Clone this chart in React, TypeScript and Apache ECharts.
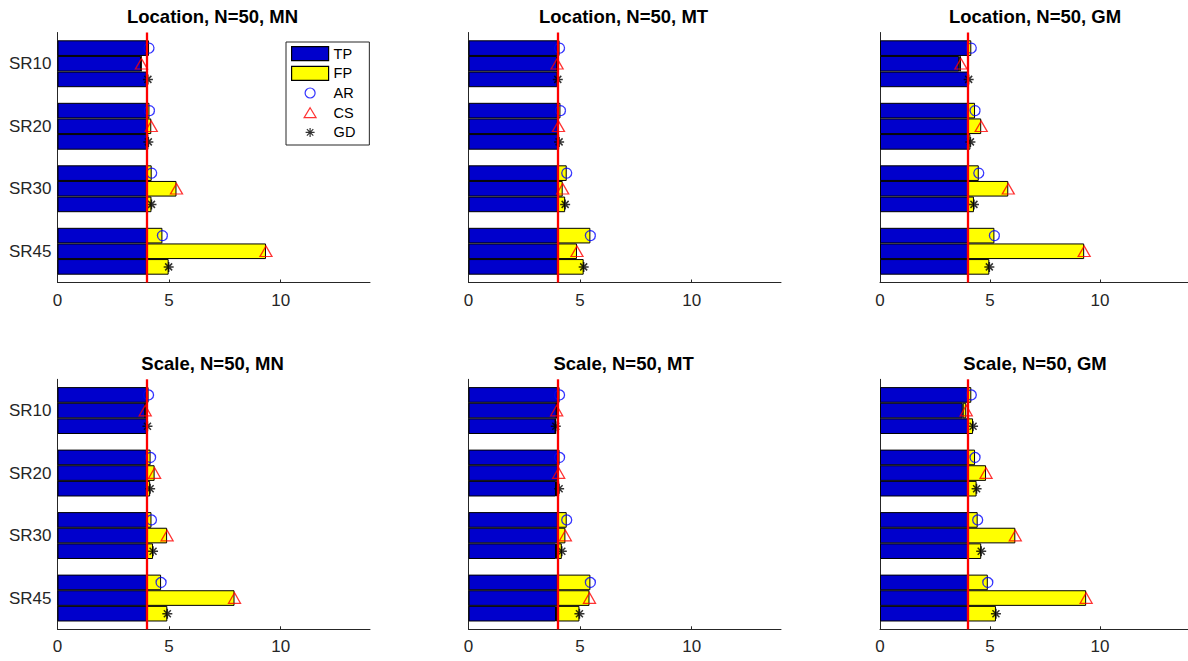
import React, { useEffect, useRef } from 'react';
import * as echarts from 'echarts';

// ---------- data ----------
const categories = ['SR10', 'SR20', 'SR30', 'SR45'];
const methods = ['AR', 'CS', 'GD'];
const xTicks = [0, 5, 10];
const xMax = 14;
const trueCount = 4;

const panelTitles = [
  'Location, N=50, MN',
  'Location, N=50, MT',
  'Location, N=50, GM',
  'Scale, N=50, MN',
  'Scale, N=50, MT',
  'Scale, N=50, GM',
];

// rows: AR, CS, GD ; columns: SR10, SR20, SR30, SR45
const locMN_TP = [[4.0, 4.0, 4.0, 4.0], [3.74, 4.0, 4.0, 4.0], [4.0, 4.0, 4.0, 4.0]];
const locMN_FP = [[0.1, 0.12, 0.22, 0.7], [0.02, 0.2, 1.33, 5.34], [0.05, 0.07, 0.21, 0.98]];

const locMT_TP = [[4.0, 4.0, 4.0, 4.0], [3.97, 4.0, 4.0, 4.0], [3.98, 4.0, 4.0, 4.0]];
const locMT_FP = [[0.08, 0.12, 0.4, 1.46], [0.0, 0.03, 0.22, 0.86], [0.02, 0.06, 0.33, 1.16]];

const locGM_TP = [[4.0, 4.0, 4.0, 4.0], [3.6, 4.0, 4.0, 4.0], [4.0, 4.0, 4.0, 4.0]];
const locGM_FP = [[0.15, 0.32, 0.49, 1.2], [0.08, 0.6, 1.83, 5.28], [0.03, 0.11, 0.27, 0.97]];

const scMN_TP = [[4.0, 4.0, 4.0, 4.0], [3.93, 4.0, 4.0, 4.0], [4.0, 4.0, 4.0, 4.0]];
const scMN_FP = [[0.08, 0.17, 0.21, 0.64], [0.0, 0.35, 0.91, 3.93], [0.03, 0.15, 0.28, 0.92]];

const scMT_TP = [[4.0, 4.0, 4.0, 4.0], [3.95, 4.0, 4.0, 4.0], [3.9, 3.92, 3.92, 3.92]];
const scMT_FP = [[0.08, 0.08, 0.4, 1.46], [0.0, 0.04, 0.34, 1.42], [0.01, 0.14, 0.26, 1.05]];

const scGM_TP = [[4.0, 4.0, 4.0, 4.0], [3.76, 4.0, 4.0, 4.0], [4.0, 4.0, 4.0, 4.0]];
const scGM_FP = [[0.15, 0.32, 0.44, 0.9], [0.16, 0.82, 2.15, 5.37], [0.23, 0.39, 0.6, 1.27]];

const panelTP = [locMN_TP, locMT_TP, locGM_TP, scMN_TP, scMT_TP, scGM_TP];
const panelFP = [locMN_FP, locMT_FP, locGM_FP, scMN_FP, scMT_FP, scGM_FP];

// ---------- style / layout ----------
const FONT = '"Liberation Sans", Arial, Helvetica, sans-serif';
const AXIS_COLOR = '#262626';
const colLefts = [57.5, 468.5, 880];
const rowTops = [32.5, 379.3];
const gridW = 312.5;
const gridH = 250;
const catGap = 0.25;
const slot = (1 - catGap) / methods.length;

const markerStyles = [
  { symbol: 'circle', symbolSize: 10, color: '#0000FF', width: 1.3 },
  { symbol: 'triangle', symbolSize: [12, 10.5], color: '#FF0000', width: 1.3 },
  {
    symbol: 'path://M0 -5L0 5M-5 0L5 0M-3.5 -3.5L3.5 3.5M-3.5 3.5L3.5 -3.5',
    symbolSize: 10,
    color: '#000000',
    width: 1.5,
  },
];

const legendIcons = [
  'path://M-7 -7M7 7M5 0A5 5 0 1 1 -5 0A5 5 0 1 1 5 0Z',
  'path://M-7 -7M7 7M0 -5L6 5L-6 5Z',
  'path://M-7 -7M7 7M0 -4.5L0 4.5M-4.5 0L4.5 0M-3.2 -3.2L3.2 3.2M-3.2 3.2L3.2 -3.2',
];

function buildOption() {
  const grid: any[] = [];
  const xAxis: any[] = [];
  const yAxis: any[] = [];
  const series: any[] = [];
  const graphic: any[] = [];

  panelTitles.forEach((title, p) => {
    const r = Math.floor(p / 3);
    const c = p % 3;
    grid.push({ left: colLefts[c], top: rowTops[r], width: gridW, height: gridH, containLabel: false });

    xAxis.push({
      type: 'value',
      gridIndex: p,
      min: 0,
      max: xMax,
      interval: 5,
      axisLine: { show: true, onZero: false, lineStyle: { color: AXIS_COLOR, width: 1 } },
      axisTick: { show: true, inside: true, length: 3, customValues: xTicks, lineStyle: { color: AXIS_COLOR } },
      axisLabel: { customValues: xTicks, margin: 9, fontSize: 17, color: AXIS_COLOR, fontFamily: FONT },
      splitLine: { show: false },
    });

    yAxis.push({
      type: 'category',
      gridIndex: p,
      data: categories,
      inverse: true,
      position: 'left',
      axisLine: { show: true, onZero: false, lineStyle: { color: AXIS_COLOR, width: 1 } },
      axisTick: { show: false },
      axisLabel: { show: c === 0, margin: 6, fontSize: 17, color: AXIS_COLOR, fontFamily: FONT },
      splitLine: { show: false },
    });
    yAxis.push({
      type: 'value',
      gridIndex: p,
      min: -0.5,
      max: categories.length - 0.5,
      inverse: true,
      position: 'right',
      show: false,
    });

    const TP = panelTP[p];
    const FP = panelFP[p];

    methods.forEach((m, mi) => {
      const stack = `p${p}-${m}`;
      series.push({
        type: 'bar',
        name: 'TP',
        xAxisIndex: p,
        yAxisIndex: 2 * p,
        stack,
        data: TP[mi],
        barCategoryGap: '25%',
        barGap: '0%',
        itemStyle: { color: '#0000CC', borderColor: '#000000', borderWidth: 1 },
        emphasis: { disabled: true },
      });
      series.push({
        type: 'bar',
        name: 'FP',
        xAxisIndex: p,
        yAxisIndex: 2 * p,
        stack,
        data: FP[mi],
        barCategoryGap: '25%',
        barGap: '0%',
        itemStyle: { color: '#FFFF00', borderColor: '#000000', borderWidth: 1 },
        emphasis: { disabled: true },
      });
    });

    methods.forEach((m, mi) => {
      const ms = markerStyles[mi];
      const s: any = {
        type: 'scatter',
        name: m,
        xAxisIndex: p,
        yAxisIndex: 2 * p + 1,
        z: 3,
        symbol: ms.symbol,
        symbolSize: ms.symbolSize,
        itemStyle: { color: 'transparent', borderColor: ms.color, borderWidth: ms.width },
        emphasis: { disabled: true },
        data: categories.map((_, i) => [TP[mi][i] + FP[mi][i], i + (mi - (methods.length - 1) / 2) * slot]),
      };
      if (mi === 0) {
        s.markLine = {
          silent: true,
          symbol: ['none', 'none'],
          label: { show: false },
          lineStyle: { color: '#FF0000', width: 2.3, type: 'solid' },
          emphasis: { disabled: true },
          data: [{ xAxis: trueCount }],
        };
      }
      series.push(s);
    });

    graphic.push({
      type: 'text',
      x: colLefts[c] + gridW / 2 - 1.2,
      y: rowTops[r] - 16.2,
      style: {
        text: title,
        fontSize: 18.5,
        fontWeight: 'bold',
        fontFamily: FONT,
        fill: '#000000',
        align: 'center',
        verticalAlign: 'middle',
      },
    });
  });

  return {
    animation: false,
    backgroundColor: '#ffffff',
    grid,
    xAxis,
    yAxis,
    series,
    graphic,
    legend: {
      left: 286,
      top: 42,
      orient: 'vertical',
      itemWidth: 37,
      itemHeight: 14,
      itemGap: 4.5,
      padding: [4, 14, 5, 5],
      borderColor: AXIS_COLOR,
      borderWidth: 1,
      borderRadius: 0,
      backgroundColor: '#ffffff',
      selectedMode: false,
      z: 10,
      textStyle: { fontSize: 14.5, color: '#000000', fontFamily: FONT },
      itemStyle: { borderWidth: 1.2 },
      data: [
        { name: 'TP', icon: 'rect' },
        { name: 'FP', icon: 'rect' },
        ...methods.map((m, mi) => ({ name: m, icon: legendIcons[mi] })),
      ],
    },
  };
}

export default function App() {
  const ref = useRef<HTMLDivElement>(null);
  useEffect(() => {
    if (!ref.current) return;
    const chart = echarts.init(ref.current, null, { renderer: 'svg' });
    chart.setOption(buildOption() as any);
    return () => chart.dispose();
  }, []);
  return (
    <div
      ref={ref}
      style={{ position: 'fixed', left: 0, top: 0, width: 1188, height: 661, background: '#fff' }}
    />
  );
}
